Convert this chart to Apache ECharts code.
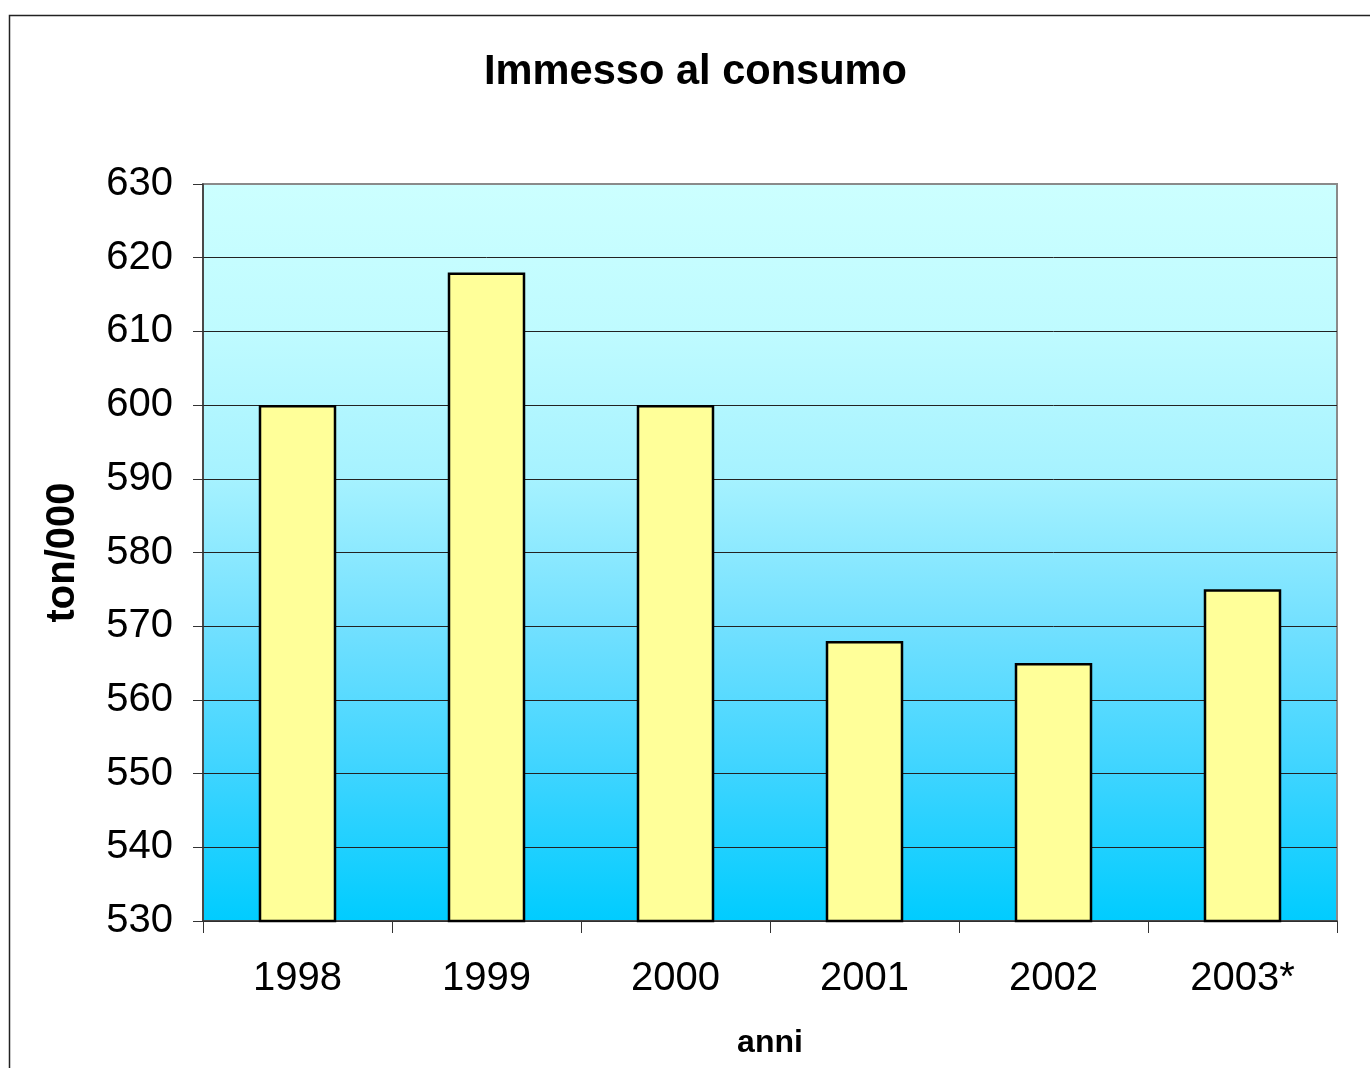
<!DOCTYPE html>
<html>
<head>
<meta charset="utf-8">
<script src="https://cdn.jsdelivr.net/npm/echarts@6/dist/echarts.min.js"></script>
<style>
  html, body { margin: 0; padding: 0; background: #fff; overflow: hidden; }
  #chart { width: 1370px; height: 1068px; }
</style>
</head>
<body>
<div id="chart"></div>
<script>
// Consumo annuo (migliaia di tonnellate)
const anni = ['1998', '1999', '2000', '2001', '2002', '2003*'];
const immesso = [600, 618, 600, 568, 565, 575];
const yMin = 530, yMax = 630, yStep = 10;

const FONT = '"Liberation Sans", Arial, sans-serif';
const chart = echarts.init(document.getElementById('chart'));

// gridlines dark, except the topmost one which blends into the grey plot frame
const gridColors = [];
for (let v = yMin; v <= yMax; v += yStep) gridColors.push(v === yMax ? '#8a8a8a' : '#222');

chart.setOption({
  animation: false,
  textStyle: { fontFamily: FONT },
  title: {
    text: 'Immesso al consumo',
    left: 479,
    top: 47,
    textStyle: { fontFamily: FONT, fontSize: 41.6, fontWeight: 'bold', color: '#000' }
  },
  graphic: [{
    type: 'rect',
    left: 7, top: 13,
    shape: { width: 1400, height: 1100 },
    style: { fill: 'none', stroke: '#222', lineWidth: 1.5 },
    silent: true
  }],
  grid: {
    left: 203, top: 184, right: 33, bottom: 147,
    show: true,
    borderColor: '#8a8a8a',
    borderWidth: 2,
    // sky-blue plot fill, pale at the top, deepening towards the base
    backgroundColor: new echarts.graphic.LinearGradient(0, 0, 0, 1, [
      { offset: 0, color: '#CCFFFF' },
      { offset: 0.2, color: '#BFFBFF' },
      { offset: 0.4, color: '#A6F2FF' },
      { offset: 0.6, color: '#72E0FF' },
      { offset: 0.8, color: '#3DD4FF' },
      { offset: 1, color: '#00CCFF' }
    ])
  },
  xAxis: {
    type: 'category',
    data: anni,
    name: 'anni',
    nameLocation: 'middle',
    nameGap: 106,
    nameTextStyle: { fontFamily: FONT, fontSize: 32, fontWeight: 'bold', color: '#000' },
    axisLine: { lineStyle: { color: '#333', width: 1.5 } },
    axisTick: { show: true, length: 12, lineStyle: { color: '#333' } },
    axisLabel: { fontFamily: FONT, fontSize: 40, color: '#000', margin: 38 }
  },
  yAxis: {
    type: 'value',
    min: yMin, max: yMax, interval: yStep,
    name: 'ton/000',
    nameLocation: 'middle',
    nameRotate: 90,
    nameGap: 120,
    nameTextStyle: { fontFamily: FONT, fontSize: 40, fontWeight: 'bold', color: '#000' },
    axisLine: { show: true, lineStyle: { color: '#333', width: 1.5 } },
    axisTick: { show: true, length: 10, lineStyle: { color: '#333' } },
    axisLabel: { fontFamily: FONT, fontSize: 40, color: '#000', margin: 30 },
    splitLine: { show: true, lineStyle: { color: gridColors, width: 1 } }
  },
  series: [{
    type: 'bar',
    data: immesso,
    barWidth: '41%',
    itemStyle: { color: '#FFFF99', borderColor: '#000', borderWidth: 2.5 }
  }]
});
</script>
</body>
</html>
